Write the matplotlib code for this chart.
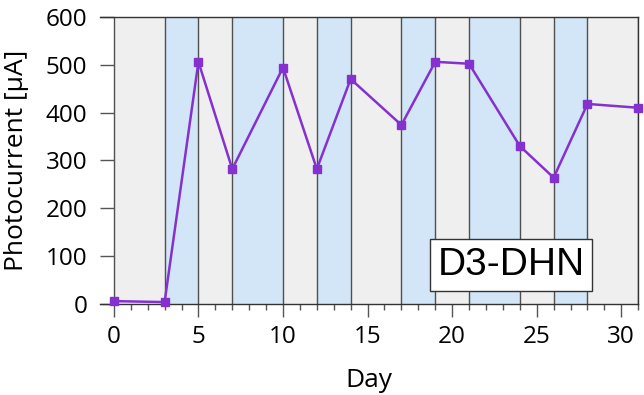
import matplotlib.pyplot as plt
from matplotlib.ticker import MultipleLocator

days = [0, 3, 5, 7, 10, 12, 14, 17, 19, 21, 24, 26, 28, 31]
current = [6, 4, 506, 282, 494, 282, 470, 374, 506, 502, 330, 264, 418, 410]

# shaded day intervals (start, end)
blue_spans = [(3, 5), (7, 10), (12, 14), (17, 19), (21, 24), (26, 28)]
gray_spans = [(0, 3), (5, 7), (10, 12), (14, 17), (19, 21), (24, 26), (28, 31)]
boundaries = [0, 3, 5, 7, 10, 12, 14, 17, 19, 21, 24, 26, 28, 31]

plt.rcParams['font.family'] = ['Open Sans', 'DejaVu Sans']

fig = plt.figure(figsize=(6.44, 3.95), dpi=100)
ax = fig.add_axes([0.155, 0.2304, 0.836, 0.727])

for a, b in gray_spans:
    ax.axvspan(a, b, color='#efefef', lw=0, zorder=0)
for a, b in blue_spans:
    ax.axvspan(a, b, color='#d3e6f8', lw=0, zorder=0)
for d in boundaries:
    ax.axvline(d, color='#4f4f4f', lw=1.0, zorder=1)

ax.plot(days, current, color='#8531d0', lw=1.8, marker='s', markersize=5.5,
        zorder=3, clip_on=False)

ax.set_xlim(-0.83, 31)
ax.set_ylim(0, 600)
ax.spines['left'].set_visible(False)
for s in ['top', 'bottom', 'right']:
    ax.spines[s].set_color('#333333')
    ax.spines[s].set_linewidth(1.0)

ax.xaxis.set_major_locator(MultipleLocator(5))
ax.xaxis.set_minor_locator(MultipleLocator(1))
ax.yaxis.set_major_locator(MultipleLocator(100))
ax.tick_params(axis='x', which='major', direction='out', length=9, width=1,
               color='#555555', labelsize=17.5, pad=6)
ax.tick_params(axis='x', which='minor', direction='out', length=4, width=1,
               color='#555555')
ax.tick_params(axis='y', direction='in', length=10, width=1, color='#555555',
               labelsize=17.5, pad=9)

ax.set_xlabel('Day', fontsize=19, labelpad=14)
ax.set_ylabel('Photocurrent [µA]', fontsize=19, labelpad=12)

ax.text(0.764, 0.136, 'D3-DHN', transform=ax.transAxes, fontsize=28,
        family='Liberation Sans', ha='center', va='center', zorder=5,
        bbox=dict(boxstyle='square,pad=0.2', facecolor='white',
                  edgecolor='#333333', lw=1))

fig.savefig('out.png', dpi=100)
